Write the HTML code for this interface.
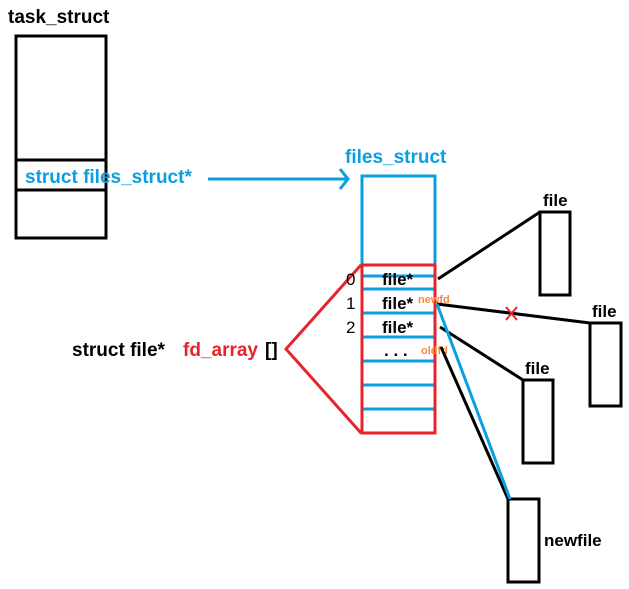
<!DOCTYPE html>
<html><head><meta charset="utf-8"><style>
html,body{margin:0;padding:0;background:#fff;}
svg{display:block;}
text{font-family:"Liberation Sans",Arial,sans-serif;font-weight:bold;}
</style></head><body>
<svg width="629" height="589" viewBox="0 0 629 589" xmlns="http://www.w3.org/2000/svg">
<text x="8" y="23" font-size="19" fill="#000">task_struct</text>
<rect x="16" y="36" width="90" height="202" fill="none" stroke="#000" stroke-width="3"/>
<line x1="16" y1="160" x2="106" y2="160" stroke="#000" stroke-width="3"/>
<line x1="16" y1="190" x2="106" y2="190" stroke="#000" stroke-width="3"/>
<text x="25" y="183" font-size="19" fill="#0aa0e0">struct files_struct*</text>
<line x1="208" y1="179" x2="348" y2="179" stroke="#0aa0e0" stroke-width="3"/>
<polyline points="340,169 348,179 340,189" fill="none" stroke="#0aa0e0" stroke-width="3"/>
<text x="345" y="163" font-size="19" fill="#0aa0e0">files_struct</text>
<rect x="362" y="176" width="73" height="100" fill="none" stroke="#0aa0e0" stroke-width="3"/>
<g stroke="#0aa0e0" stroke-width="3">
<line x1="362" y1="289" x2="435" y2="289"/><line x1="362" y1="313" x2="435" y2="313"/>
<line x1="362" y1="337" x2="435" y2="337"/><line x1="362" y1="361" x2="435" y2="361"/>
<line x1="362" y1="385" x2="435" y2="385"/><line x1="362" y1="409" x2="435" y2="409"/>
</g>
<rect x="362" y="265" width="73" height="168" fill="none" stroke="#e8232b" stroke-width="3"/>
<polyline points="361,265 286,349 361,433" fill="none" stroke="#e8232b" stroke-width="3"/>
<text x="72" y="356" font-size="19" fill="#000">struct file*</text>
<text x="183" y="356" font-size="19" fill="#e8232b">fd_array</text>
<text x="265" y="356" font-size="19" fill="#000">[]</text>
<text x="346" y="285" font-size="17" font-weight="normal" style="font-weight:normal">0</text>
<text x="346" y="309" font-size="17" style="font-weight:normal">1</text>
<text x="346" y="333" font-size="17" style="font-weight:normal">2</text>
<text x="382" y="285" font-size="17">file*</text>
<text x="382" y="309" font-size="17">file*</text>
<text x="382" y="333" font-size="17">file*</text>
<text x="384" y="356" font-size="17">. . .</text>
<text x="418" y="303" font-size="11" fill="#f5893a">newfd</text>
<text x="421" y="354" font-size="11" fill="#f5893a">oldfd</text>
<g stroke="#000" stroke-width="3" fill="none">
<rect x="540" y="212" width="30" height="83"/>
<rect x="590" y="323" width="31" height="83"/>
<rect x="523" y="380" width="30" height="83"/>
<rect x="508" y="499" width="31" height="83"/>
<line x1="438" y1="279" x2="540" y2="212"/>
<line x1="437" y1="304" x2="590" y2="323"/>
<line x1="440" y1="327" x2="523" y2="380"/>
<line x1="441" y1="347" x2="508" y2="499"/>
</g>
<line x1="437" y1="304" x2="510" y2="499" stroke="#0aa0e0" stroke-width="3"/>
<g stroke="#e8232b" stroke-width="2"><line x1="506" y1="307" x2="517" y2="320"/><line x1="517" y1="307" x2="506" y2="320"/></g>
<text x="543" y="206" font-size="17">file</text>
<text x="592" y="317" font-size="17">file</text>
<text x="525" y="374" font-size="17">file</text>
<text x="544" y="546" font-size="17">newfile</text>
</svg>
</body></html>
